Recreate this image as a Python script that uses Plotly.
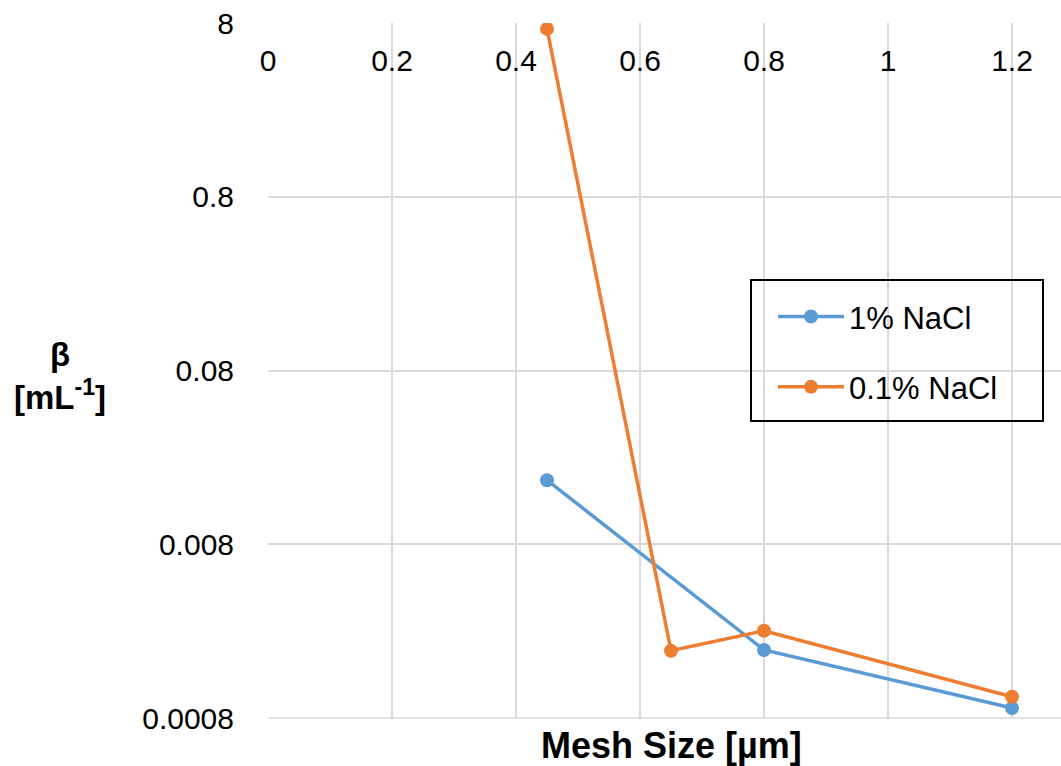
import plotly.graph_objects as go

# Mesh size [µm] and beta [mL^-1] for two salt concentrations
mesh_1pct = [0.45, 0.8, 1.2]
beta_1pct = [0.0187, 0.00197, 0.000914]

mesh_01pct = [0.45, 0.65, 0.8, 1.2]
beta_01pct = [7.4, 0.00195, 0.00254, 0.00106]

y_ticks = [0.0008, 0.008, 0.08, 0.8, 8]
y_tick_text = ["0.0008", "0.008", "0.08", "0.8", "8"]
x_ticks = [0, 0.2, 0.4, 0.6, 0.8, 1, 1.2]
x_tick_text = ["0", "0.2", "0.4", "0.6", "0.8", "1", "1.2"]

BLUE = "#5B9BD5"
ORANGE = "#ED7D31"
GRID = "#D9D9D9"
FONT = "Liberation Sans, Arial, sans-serif"

fig = go.Figure()
fig.add_trace(go.Scatter(
    x=mesh_1pct, y=beta_1pct, mode="lines+markers", name="1% NaCl",
    line=dict(color=BLUE, width=3.5), marker=dict(color=BLUE, size=14),
    legendgroup="a",
))
fig.add_trace(go.Scatter(
    x=mesh_01pct, y=beta_01pct, mode="lines+markers", name="0.1% NaCl",
    line=dict(color=ORANGE, width=3.5), marker=dict(color=ORANGE, size=14),
    legendgroup="b",
))

fig.update_layout(
    width=1061, height=766,
    margin=dict(l=268, r=0, t=23, b=48),
    paper_bgcolor="white", plot_bgcolor="white",
    font=dict(family=FONT, size=30, color="black"),
    xaxis=dict(
        range=[0, 1.279], side="top", anchor="free", position=(718 - 84) / 695,
        tickvals=x_ticks, ticktext=x_tick_text,
        showgrid=True, gridcolor=GRID, gridwidth=1.5,
        zeroline=False, showline=False,
        ticks="outside", ticklen=1, tickcolor="rgba(0,0,0,0)",
        tickfont=dict(size=30, family=FONT),
    ),
    yaxis=dict(
        type="log", range=[-3.09691, 0.90309], tickvals=y_ticks, ticktext=y_tick_text,
        showgrid=True, gridcolor=GRID, gridwidth=1.5, zeroline=False,
        showline=False, ticks="outside", ticklen=27, tickcolor="rgba(0,0,0,0)",
        tickfont=dict(size=30, family=FONT),
    ),
    legend=dict(
        x=(773 - 268) / 793, y=0.616, xanchor="left", yanchor="top",
        bgcolor="rgba(0,0,0,0)", borderwidth=0,
        font=dict(size=31, family=FONT),
        tracegroupgap=27, traceorder="grouped", itemwidth=66,
    ),
    showlegend=True,
)

# Legend frame
fig.add_shape(
    type="rect", xref="paper", yref="paper",
    x0=(751 - 268) / 793, x1=(1043 - 268) / 793,
    y0=(718 - 421) / 695, y1=(718 - 280) / 695,
    line=dict(color="black", width=2), fillcolor="rgba(0,0,0,0)",
)

# Bottom baseline of the plot area
fig.add_shape(
    type="line", xref="paper", yref="paper", x0=0, x1=1, y0=0, y1=0,
    line=dict(color=GRID, width=1.5), layer="below",
)

# Axis titles
fig.add_annotation(
    text="<b>Mesh Size [µm]</b>", xref="paper", yref="paper",
    x=(671 - 268) / 793, y=-(745 - 718) / 695, xanchor="center", yanchor="middle",
    showarrow=False, font=dict(size=36, family=FONT),
)
fig.add_annotation(
    text="<b>β<br>[mL<sup>-1</sup>]</b>", xref="paper", yref="paper",
    x=(60 - 268) / 793, y=(718 - 376) / 695, xanchor="center", yanchor="middle",
    showarrow=False, font=dict(size=33, family=FONT), align="center",
)

fig.write_html("out.html")
